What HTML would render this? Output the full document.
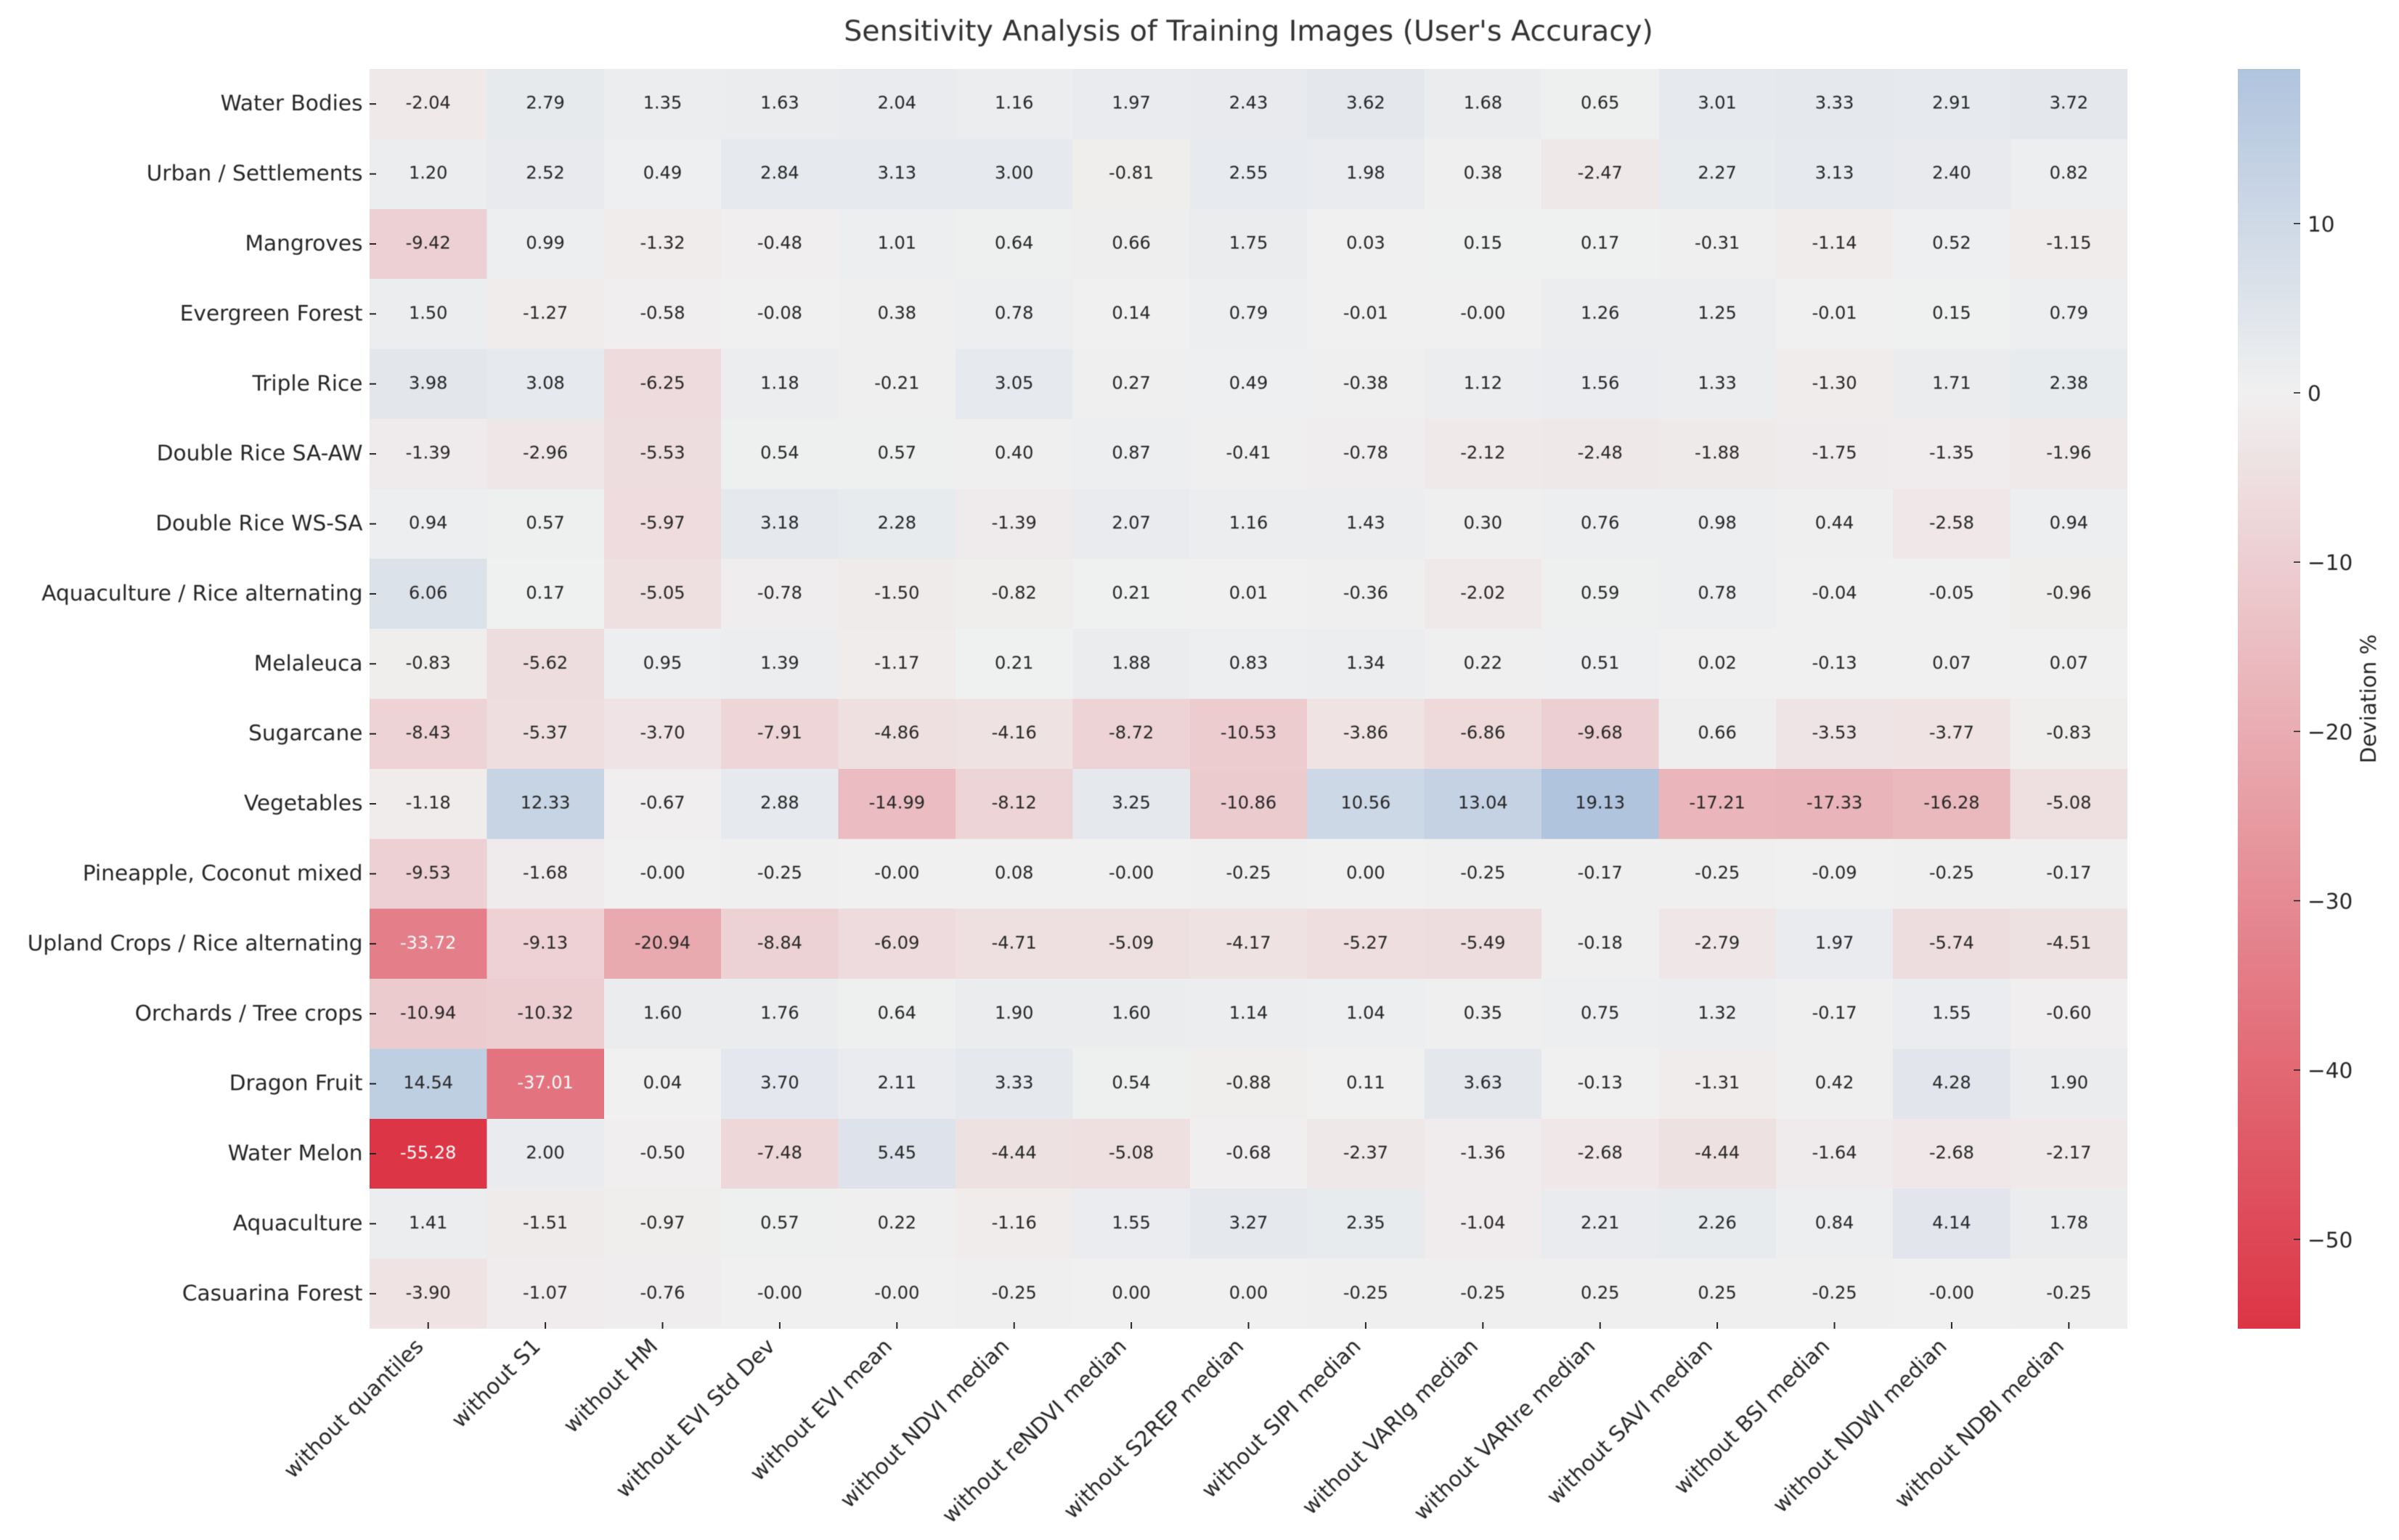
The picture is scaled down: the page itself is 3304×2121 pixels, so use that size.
<!DOCTYPE html>
<html lang="en">
<head>
<meta charset="utf-8">
<title>Sensitivity Analysis of Training Images (User's Accuracy)</title>
<style>
  html, body { margin: 0; padding: 0; background: #ffffff; }
  body { width: 3304px; height: 2121px; overflow: hidden; }
  svg { display: block; font-family: "DejaVu Sans", "Liberation Sans", sans-serif; }
  text { filter: blur(0.5px); }
</style>
</head>
<body>
<svg id="chart" xmlns="http://www.w3.org/2000/svg" width="3304" height="2121" viewBox="0 0 3304 2121">
  <defs>
    <linearGradient id="cbar-gradient" x1="0" y1="0" x2="0" y2="1"></linearGradient>
  </defs>
  <rect x="0" y="0" width="3304" height="2121" fill="#ffffff"></rect>
  <text x="1719.5" y="56" text-anchor="middle" font-size="39.5" fill="#333333">Sensitivity Analysis of Training Images (User's Accuracy)</text>
  <g id="cells"></g>
  <g id="annotations"></g>
  <g id="y-axis"></g>
  <g id="x-axis"></g>
  <rect id="cbar" fill="url(#cbar-gradient)"></rect>
  <g id="cbar-axis"></g>
  <text text-anchor="middle" font-size="29.4" fill="#262626" transform="translate(3272 962.5) rotate(-90)">Deviation %</text>
</svg>
<script>
const rowLabels = ["Water Bodies", "Urban / Settlements", "Mangroves", "Evergreen Forest", "Triple Rice", "Double Rice SA-AW", "Double Rice WS-SA", "Aquaculture / Rice alternating", "Melaleuca", "Sugarcane", "Vegetables", "Pineapple, Coconut mixed", "Upland Crops / Rice alternating", "Orchards / Tree crops", "Dragon Fruit", "Water Melon", "Aquaculture", "Casuarina Forest"];
const colLabels = ["without quantiles", "without S1", "without HM", "without EVI Std Dev", "without EVI mean", "without NDVI median", "without reNDVI median", "without S2REP median", "without SIPI median", "without VARIg median", "without VARIre median", "without SAVI median", "without BSI median", "without NDWI median", "without NDBI median"];
const cbarTicks = [10, 0, -10, -20, -30, -40, -50];
const waterBodies = [-2.04, 2.79, 1.35, 1.63, 2.04, 1.16, 1.97, 2.43, 3.62, 1.68, 0.65, 3.01, 3.33, 2.91, 3.72];
const urban = [1.20, 2.52, 0.49, 2.84, 3.13, 3.00, -0.81, 2.55, 1.98, 0.38, -2.47, 2.27, 3.13, 2.40, 0.82];
const mangroves = [-9.42, 0.99, -1.32, -0.48, 1.01, 0.64, 0.66, 1.75, 0.03, 0.15, 0.17, -0.31, -1.14, 0.52, -1.15];
const evergreen = [1.50, -1.27, -0.58, -0.08, 0.38, 0.78, 0.14, 0.79, -0.01, -0.001, 1.26, 1.25, -0.01, 0.15, 0.79];
const tripleRice = [3.98, 3.08, -6.25, 1.18, -0.21, 3.05, 0.27, 0.49, -0.38, 1.12, 1.56, 1.33, -1.30, 1.71, 2.38];
const doubleRiceSaAw = [-1.39, -2.96, -5.53, 0.54, 0.57, 0.40, 0.87, -0.41, -0.78, -2.12, -2.48, -1.88, -1.75, -1.35, -1.96];
const doubleRiceWsSa = [0.94, 0.57, -5.97, 3.18, 2.28, -1.39, 2.07, 1.16, 1.43, 0.30, 0.76, 0.98, 0.44, -2.58, 0.94];
const aquaRice = [6.06, 0.17, -5.05, -0.78, -1.50, -0.82, 0.21, 0.01, -0.36, -2.02, 0.59, 0.78, -0.04, -0.05, -0.96];
const melaleuca = [-0.83, -5.62, 0.95, 1.39, -1.17, 0.21, 1.88, 0.83, 1.34, 0.22, 0.51, 0.02, -0.13, 0.07, 0.07];
const sugarcane = [-8.43, -5.37, -3.70, -7.91, -4.86, -4.16, -8.72, -10.53, -3.86, -6.86, -9.68, 0.66, -3.53, -3.77, -0.83];
const vegetables = [-1.18, 12.33, -0.67, 2.88, -14.99, -8.12, 3.25, -10.86, 10.56, 13.04, 19.13, -17.21, -17.33, -16.28, -5.08];
const pineapple = [-9.53, -1.68, -0.001, -0.25, -0.001, 0.08, -0.001, -0.25, 0.00, -0.25, -0.17, -0.25, -0.09, -0.25, -0.17];
const upland = [-33.72, -9.13, -20.94, -8.84, -6.09, -4.71, -5.09, -4.17, -5.27, -5.49, -0.18, -2.79, 1.97, -5.74, -4.51];
const orchards = [-10.94, -10.32, 1.60, 1.76, 0.64, 1.90, 1.60, 1.14, 1.04, 0.35, 0.75, 1.32, -0.17, 1.55, -0.60];
const dragonFruit = [14.54, -37.01, 0.04, 3.70, 2.11, 3.33, 0.54, -0.88, 0.11, 3.63, -0.13, -1.31, 0.42, 4.28, 1.90];
const waterMelon = [-55.28, 2.00, -0.50, -7.48, 5.45, -4.44, -5.08, -0.68, -2.37, -1.36, -2.68, -4.44, -1.64, -2.68, -2.17];
const aquaculture = [1.41, -1.51, -0.97, 0.57, 0.22, -1.16, 1.55, 3.27, 2.35, -1.04, 2.21, 2.26, 0.84, 4.14, 1.78];
const casuarina = [-3.90, -1.07, -0.76, -0.001, -0.001, -0.25, 0.00, 0.00, -0.25, -0.25, 0.25, 0.25, -0.25, -0.001, -0.25];
const values = [waterBodies, urban, mangroves, evergreen, tripleRice, doubleRiceSaAw, doubleRiceWsSa, aquaRice, melaleuca, sugarcane, vegetables, pineapple, upland, orchards, dragonFruit, waterMelon, aquaculture, casuarina];

const NS = "http://www.w3.org/2000/svg";
const plot = { left: 509, right: 2930, top: 95, bottom: 1830 };
const cbarBox = { left: 3082, right: 3168 };
const TEXT_DARK = "#262626";
const colLow = [220, 53, 69], colMid = [240, 240, 240], colHigh = [176, 196, 222];

const flat = values.flat();
const vMin = Math.min(...flat);
const vMax = Math.max(...flat);

function xBand(c) { return plot.left + (plot.right - plot.left) * c / colLabels.length; }
function yBand(r) { return plot.top + (plot.bottom - plot.top) * r / rowLabels.length; }
function cbarY(v) { return plot.top + (vMax - v) / (vMax - vMin) * (plot.bottom - plot.top); }
function mix(a, b, t) { return a.map((x, i) => Math.round(x + (b[i] - x) * t)); }
function colorArr(v) { return v < 0 ? mix(colMid, colLow, Math.min(1, v / vMin)) : mix(colMid, colHigh, Math.min(1, v / vMax)); }
function rgb(a) { return "rgb(" + a.join(",") + ")"; }
function luminance(a) {
  const l = a.map(x => { x /= 255; return x <= 0.03928 ? x / 12.92 : Math.pow((x + 0.055) / 1.055, 2.4); });
  return 0.2126 * l[0] + 0.7152 * l[1] + 0.0722 * l[2];
}
function mk(tag, attrs, parent, text) {
  const el = document.createElementNS(NS, tag);
  for (const k in attrs) el.setAttribute(k, attrs[k]);
  if (text !== undefined) el.textContent = text;
  parent.appendChild(el);
  return el;
}

const cellsG = document.getElementById("cells");
const annG = document.getElementById("annotations");
const yG = document.getElementById("y-axis");
const xG = document.getElementById("x-axis");
const cbarAxisG = document.getElementById("cbar-axis");

values.forEach((row, r) => {
  row.forEach((v, c) => {
    const x0 = xBand(c), x1 = xBand(c + 1), y0 = yBand(r), y1 = yBand(r + 1);
    const col = colorArr(v);
    const cell = mk("rect", { x: x0, y: y0, width: x1 - x0, height: y1 - y0, fill: rgb(col), "shape-rendering": "crispEdges" }, cellsG);
    
    
    const t = mk("text", { x: (x0 + x1) / 2, y: (y0 + y1) / 2 + 6.5, "text-anchor": "middle", "font-size": 24, fill: luminance(col) < 0.408 ? "#ffffff" : TEXT_DARK }, annG, v.toFixed(2));
    
    
  });
});

rowLabels.forEach((label, r) => {
  const y = (yBand(r) + yBand(r + 1)) / 2;
  const tick = mk("line", { x1: plot.left, x2: plot.left + 9, y1: y, y2: y, stroke: TEXT_DARK, "stroke-width": 2 }, yG);
  
  
  const t = mk("text", { x: plot.left - 9.5, y: y + 9, "text-anchor": "end", "font-size": 29.6, fill: TEXT_DARK }, yG, label);
  
  
});

colLabels.forEach((label, c) => {
  const x = (xBand(c) + xBand(c + 1)) / 2;
  const tick = mk("line", { x1: x, x2: x, y1: plot.bottom - 9, y2: plot.bottom, stroke: TEXT_DARK, "stroke-width": 2 }, xG);
  
  
  const px = x - 5, py = plot.bottom + 26;
  const t = mk("text", { x: px, y: py, "text-anchor": "end", "font-size": 29.6, fill: TEXT_DARK, transform: "rotate(-45 " + px + " " + py + ")" }, xG, label);
  
  
});

const grad = document.getElementById("cbar-gradient");
[vMax, 0, vMin].forEach(v => {
  mk("stop", { offset: (vMax - v) / (vMax - vMin), "stop-color": rgb(colorArr(v)) }, grad);
});
const cbarRect = document.getElementById("cbar");
cbarRect.setAttribute("x", cbarBox.left);
cbarRect.setAttribute("y", plot.top);
cbarRect.setAttribute("width", cbarBox.right - cbarBox.left);
cbarRect.setAttribute("height", plot.bottom - plot.top);

cbarTicks.forEach(v => {
  const y = cbarY(v);
  const tick = mk("line", { x1: cbarBox.right - 9, x2: cbarBox.right, y1: y, y2: y, stroke: TEXT_DARK, "stroke-width": 1.6 }, cbarAxisG);
  
  
  const t = mk("text", { x: cbarBox.right + 10, y: y + 11, "font-size": 29.5, fill: TEXT_DARK }, cbarAxisG, String(v).replace("-", "\u2212"));
  
  
});
</script>
</body>
</html>
